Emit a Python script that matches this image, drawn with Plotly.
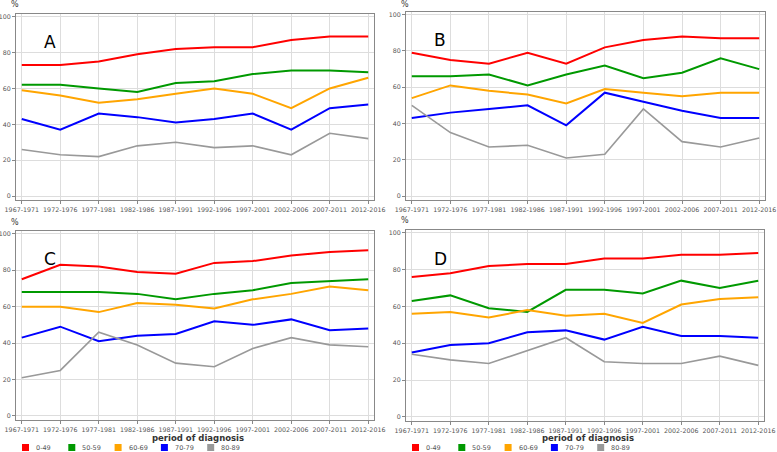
import plotly.graph_objects as go

periods = ["1967-1971", "1972-1976", "1977-1981", "1982-1986", "1987-1991",
           "1992-1996", "1997-2001", "2002-2006", "2007-2011", "2012-2016"]
age_groups = ["0-49", "50-59", "60-69", "70-79", "80-89"]
colors = ["#ff0000", "#009900", "#ffa500", "#0000ff", "#999999"]
y_ticks = [0, 20, 40, 60, 80, 100]

A_0_49 = [73, 73, 75, 79, 82, 83, 83, 87, 89, 89]
A_50_59 = [62, 62, 60, 58, 63, 64, 68, 70, 70, 69]
A_60_69 = [59, 56, 52, 54, 57, 60, 57, 49, 60, 66]
A_70_79 = [43, 37, 46, 44, 41, 43, 46, 37, 49, 51]
A_80_89 = [26, 23, 22, 28, 30, 27, 28, 23, 35, 32]

B_0_49 = [79, 75, 73, 79, 73, 82, 86, 88, 87, 87]
B_50_59 = [66, 66, 67, 61, 67, 72, 65, 68, 76, 70]
B_60_69 = [54, 61, 58, 56, 51, 59, 57, 55, 57, 57]
B_70_79 = [43, 46, 48, 50, 39, 57, 52, 47, 43, 43]
B_80_89 = [50, 35, 27, 28, 21, 23, 48, 30, 27, 32]

C_0_49 = [75, 83, 82, 79, 78, 84, 85, 88, 90, 91]
C_50_59 = [68, 68, 68, 67, 64, 67, 69, 73, 74, 75]
C_60_69 = [60, 60, 57, 62, 61, 59, 64, 67, 71, 69]
C_70_79 = [43, 49, 41, 44, 45, 52, 50, 53, 47, 48]
C_80_89 = [21, 25, 46, 39, 29, 27, 37, 43, 39, 38]

D_0_49 = [76, 78, 82, 83, 83, 86, 86, 88, 88, 89]
D_50_59 = [63, 66, 59, 57, 69, 69, 67, 74, 70, 74]
D_60_69 = [56, 57, 54, 58, 55, 56, 51, 61, 64, 65]
D_70_79 = [35, 39, 40, 46, 47, 42, 49, 44, 44, 43]
D_80_89 = [34, 31, 29, 36, 43, 30, 29, 29, 33, 28]

panels = {
    "A": [A_0_49, A_50_59, A_60_69, A_70_79, A_80_89],
    "B": [B_0_49, B_50_59, B_60_69, B_70_79, B_80_89],
    "C": [C_0_49, C_50_59, C_60_69, C_70_79, C_80_89],
    "D": [D_0_49, D_50_59, D_60_69, D_70_79, D_80_89],
}

W, H = 777, 452
# frame boxes in pixels: (left, right, top, bottom)
boxes = {
    "A": (16, 374, 14, 200),
    "B": (406, 765, 12, 200),
    "C": (16, 374, 231, 420),
    "D": (406, 764, 230, 421),
}

fig = go.Figure()
tickfont = dict(family="DejaVu Sans", size=6.3, color="#555555")

for i, (name, series) in enumerate(panels.items()):
    idx = "" if i == 0 else str(i + 1)
    l, r, t, b = boxes[name]
    xa = "xaxis" + idx
    ya = "yaxis" + idx
    for s, col, lab in zip(series, colors, age_groups):
        fig.add_trace(go.Scatter(
            x=list(range(len(periods))), y=s, mode="lines",
            line=dict(color=col, width=2 if col != "#999999" else 1.6),
            name=lab, showlegend=False,
            xaxis="x" + idx, yaxis="y" + idx, hoverinfo="skip"))
    fig.layout[xa] = dict(
        domain=[l / W, r / W], anchor="y" + idx, automargin=False,
        range=[-0.15, 9.15], tickmode="array",
        tickvals=list(range(len(periods))), ticktext=periods,
        tickangle=0, tickfont=tickfont, showgrid=True, gridcolor="#dddddd",
        gridwidth=1, showline=True, linecolor="#888888", linewidth=1, mirror=True,
        ticks="outside", ticklen=3, tickcolor="#888888", zeroline=False,
        fixedrange=True)
    fig.layout[ya] = dict(
        domain=[1 - b / H, 1 - t / H], anchor="x" + idx, automargin=False,
        range=[-2.2, 101.5], tickvals=y_ticks, tickfont=tickfont,
        showgrid=True, gridcolor="#dddddd", gridwidth=1,
        showline=True, linecolor="#888888", linewidth=1, mirror=True,
        ticks="outside", ticklen=3, tickcolor="#888888", zeroline=False,
        fixedrange=True)
    # panel letter
    fig.add_annotation(x=0.095, y=0.85, xref=("x" + idx) + " domain",
                       yref=("y" + idx) + " domain", text=name, showarrow=False,
                       font=dict(family="DejaVu Sans", size=17, color="#000000"),
                       xanchor="center", yanchor="middle")
    # % label above y axis
    fig.add_annotation(x=(l - 1) / W, y=1 - max(t - 9, 5) / H, xref="paper", yref="paper",
                       text="%", showarrow=False,
                       font=dict(family="DejaVu Sans", size=8, color="#333333"),
                       xanchor="center", yanchor="middle")

# x-axis titles and legends for bottom panels
for name in ["C", "D"]:
    l, r, t, b = boxes[name]
    cx = (l + r) / 2
    fig.add_annotation(x=(cx + 3) / W, y=1 - 437.5 / H, xref="paper", yref="paper",
                       text="<b>period of diagnosis</b>", showarrow=False,
                       font=dict(family="DejaVu Sans", size=8.5, color="#333333"),
                       xanchor="center", yanchor="middle")
    for j, (lab, col) in enumerate(zip(age_groups, colors)):
        sx = l + 6 + j * 46.3
        fig.add_shape(type="rect", xref="paper", yref="paper",
                      x0=(sx) / W, x1=(sx + 7) / W,
                      y0=1 - 451 / H, y1=1 - 444 / H,
                      fillcolor=col, line=dict(width=0))
        fig.add_annotation(x=(sx + 12) / W, y=1 - 447.5 / H, xref="paper", yref="paper",
                           text=lab, showarrow=False,
                           font=dict(family="DejaVu Sans", size=6.5, color="#555555"),
                           xanchor="left", yanchor="middle")

fig.update_layout(
    width=W, height=H, margin=dict(l=0, r=0, t=0, b=0, autoexpand=False),
    paper_bgcolor="white", plot_bgcolor="white", showlegend=False)

fig.write_html(
    "out.html",
    config={"displayModeBar": False, "staticPlot": True},
    post_script="document.body.style.margin='0';document.body.style.padding='0';"
                "document.body.style.overflow='hidden';")
